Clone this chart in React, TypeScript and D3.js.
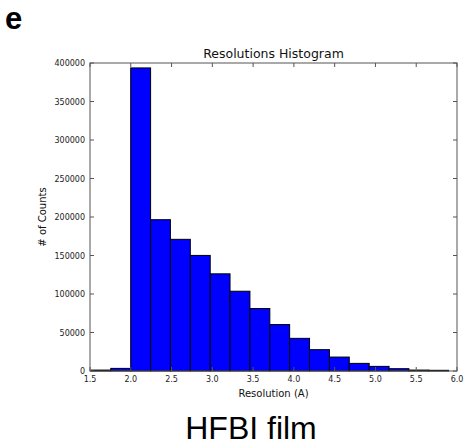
import React from "react";
import * as d3 from "d3";

const binEdges = [1.512, 1.755, 1.999, 2.243, 2.486, 2.73, 2.974, 3.217, 3.461, 3.705, 3.948, 4.192, 4.436, 4.679, 4.923, 5.167, 5.41, 5.654, 5.898];
const counts = [1200, 3400, 393600, 196500, 171000, 150100, 126200, 103600, 81100, 60300, 42400, 27700, 18100, 9900, 6000, 3000, 1200, 900];
const xTicks = [1.5, 2.0, 2.5, 3.0, 3.5, 4.0, 4.5, 5.0, 5.5, 6.0];
const yTicks = [0, 50000, 100000, 150000, 200000, 250000, 300000, 350000, 400000];

const W = 465, H = 446;
const left = 90, right = 457, top = 63, bottom = 371;

export default function App() {
  const x = d3.scaleLinear().domain([1.5, 6.0]).range([left, right]);
  const y = d3.scaleLinear().domain([0, 400000]).range([bottom, top]);
  const font = "'DejaVu Sans', sans-serif";
  return (
    <svg width={W} height={H} style={{ position: "absolute", left: 0, top: 0, background: "#fff" }}>
      <text x={5} y={29} fontFamily="'Liberation Sans', Arial, sans-serif" fontWeight="bold" fontSize={31}>e</text>
      <text x={(left + right) / 2} y={58} textAnchor="middle" fontFamily={font} fontSize={12.5} fill="#111">Resolutions Histogram</text>
      {counts.map((c, i) => (
        <rect key={i} x={x(binEdges[i])} y={y(c)} width={x(binEdges[i + 1]) - x(binEdges[i])} height={y(0) - y(c)}
          fill="#0000ff" stroke="#000" strokeWidth={1} />
      ))}
      <rect x={left} y={top} width={right - left} height={bottom - top} fill="none" stroke="#555" strokeWidth={1} />
      {xTicks.map((t, i) => (
        <g key={i}>
          <line x1={x(t)} x2={x(t)} y1={bottom} y2={bottom - 4} stroke="#555" />
          <line x1={x(t)} x2={x(t)} y1={top} y2={top + 4} stroke="#555" />
          <text x={x(t)} y={382} textAnchor="middle" fontFamily={font} fontSize={8} fill="#222">{t.toFixed(1)}</text>
        </g>
      ))}
      {yTicks.map((t, i) => (
        <g key={i}>
          <line x1={left} x2={left + 4} y1={y(t)} y2={y(t)} stroke="#555" />
          <line x1={right} x2={right - 4} y1={y(t)} y2={y(t)} stroke="#555" />
          <text x={left - 5} y={y(t) + 3} textAnchor="end" fontFamily={font} fontSize={8} fill="#222">{t}</text>
        </g>
      ))}
      <text x={(left + right) / 2} y={397} textAnchor="middle" fontFamily={font} fontSize={10} fill="#111">Resolution (A)</text>
      <text transform={`translate(46, ${(top + bottom) / 2}) rotate(-90)`} textAnchor="middle" fontFamily={font} fontSize={10} fill="#111"># of Counts</text>
      <text x={251} y={439} textAnchor="middle" fontFamily="'Liberation Sans', Arial, sans-serif" fontSize={32}>HFBI film</text>
    </svg>
  );
}
